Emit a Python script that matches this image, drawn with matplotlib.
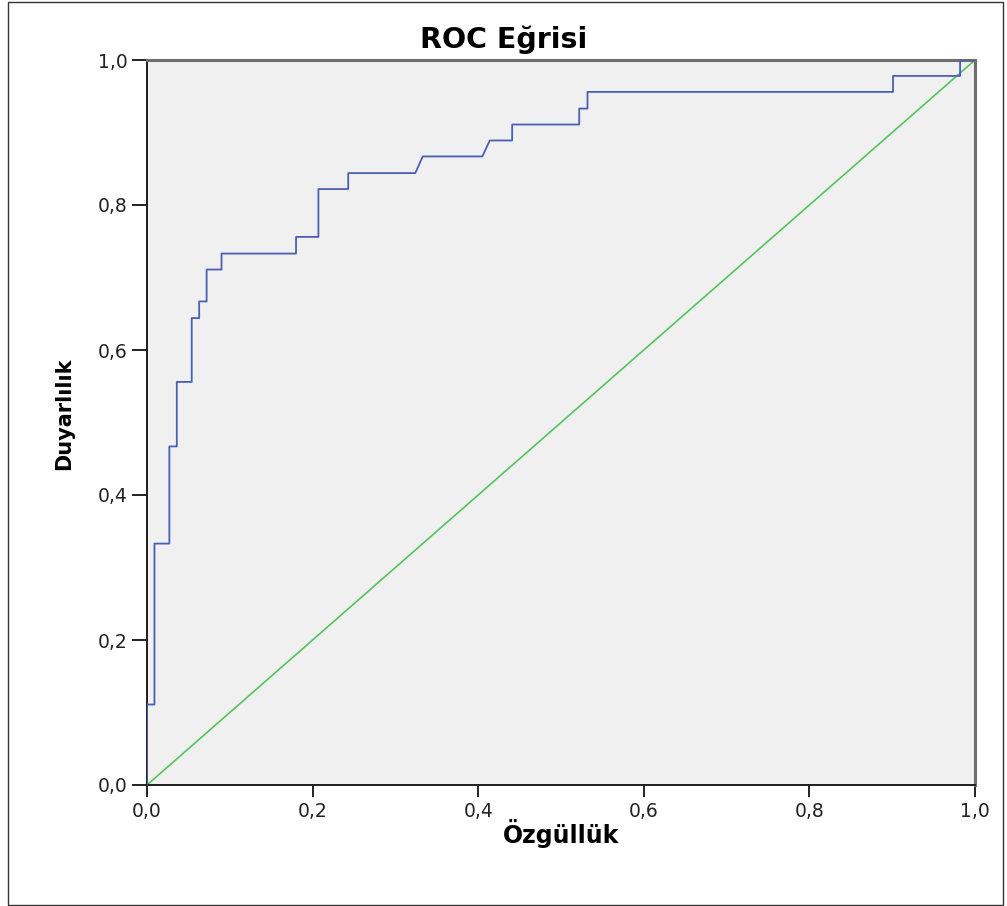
import matplotlib
matplotlib.use("Agg")
import matplotlib.pyplot as plt
from matplotlib.patches import Rectangle

plt.rcParams['font.family'] = ['DejaVu Sans']

# ROC curve vertices (1 - specificity, sensitivity)
fpr = [0.0, 0.0, 0.009, 0.009, 0.027, 0.027, 0.036, 0.036, 0.054, 0.054,
       0.063, 0.063, 0.072, 0.072, 0.090, 0.090, 0.180, 0.180, 0.207, 0.207,
       0.243, 0.243, 0.324, 0.333, 0.405, 0.414, 0.441, 0.441, 0.522, 0.522,
       0.532, 0.532, 0.901, 0.901, 0.982, 0.982, 1.0]
tpr = [0.0, 0.111, 0.111, 0.333, 0.333, 0.467, 0.467, 0.556, 0.556, 0.644,
       0.644, 0.667, 0.667, 0.711, 0.711, 0.733, 0.733, 0.756, 0.756, 0.822,
       0.822, 0.844, 0.844, 0.867, 0.867, 0.889, 0.889, 0.911, 0.911, 0.933,
       0.933, 0.956, 0.956, 0.978, 0.978, 1.0, 1.0]
ref_line = [0.0, 1.0]

ticks = [0.0, 0.2, 0.4, 0.6, 0.8, 1.0]
tick_labels = ["0,0", "0,2", "0,4", "0,6", "0,8", "1,0"]

W, H = 1007, 906
fig = plt.figure(figsize=(W / 100, H / 100), dpi=100)
ax = fig.add_axes([147 / W, 1 - 785 / H, (975 - 147) / W, (785 - 60) / H])
ax.set_facecolor('#f0f0f0')

ax.plot(ref_line, ref_line, color='#55c45c', lw=1.2, zorder=2)
ax.plot(fpr, tpr, color='#4a60b6', lw=1.3, zorder=3)

ax.set_xlim(0, 1)
ax.set_ylim(0, 1)
ax.set_xticks(ticks)
ax.set_xticklabels(tick_labels)
ax.set_yticks(ticks)
ax.set_yticklabels(tick_labels)
ax.tick_params(axis='x', length=8.5, width=1.4, pad=4, labelsize=13.5,
               color='#222222', labelcolor='#222222')
ax.tick_params(axis='y', length=11, width=1.4, pad=3, labelsize=13.5,
               color='#222222', labelcolor='#222222')

for side in ('left', 'bottom'):
    ax.spines[side].set_color('#1e1e1e')
    ax.spines[side].set_linewidth(1.4)
for side in ('top', 'right'):
    ax.spines[side].set_color('#6e6e6e')
    ax.spines[side].set_linewidth(2.2)

fig.text(0.5, 1 - 48 / H, "ROC Eğrisi", ha='center', va='baseline',
         fontsize=20.5, fontweight='bold')
fig.text(561 / W, 1 - 833 / H, "Özgüllük", ha='center', va='center',
         fontsize=17, fontweight='bold')
fig.text(64 / W, 1 - 414 / H, "Duyarlılık", ha='center', va='center',
         rotation=90, fontsize=15, fontweight='bold')

# thin frame around the whole picture
fig.patches.append(Rectangle((7.5 / W, 1.5 / H), (1003 - 7.5) / W, (904.5 - 1.5) / H,
                             transform=fig.transFigure, fill=False,
                             edgecolor='#333333', lw=1))

fig.savefig("out.png", dpi=100, facecolor='white')
